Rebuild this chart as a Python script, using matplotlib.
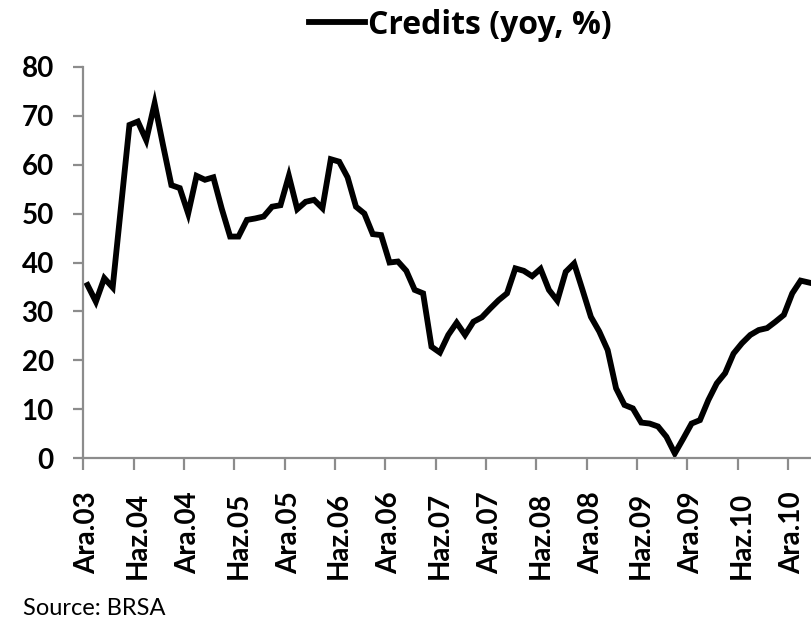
import matplotlib
matplotlib.use("Agg")
import matplotlib.pyplot as plt
import numpy as np

# Monthly credit growth (yoy, %), Dec 2003 .. Feb 2011
credits = [35.4, 32.0, 36.8, 34.9, 51.5, 68.1, 68.8, 65.0, 72.5, 64.0, 55.8, 55.2,
           50.0, 57.7, 56.9, 57.4, 51.0, 45.3, 45.3, 48.7, 49.0, 49.4, 51.4, 51.7,
           57.7, 50.9, 52.4, 52.8, 51.1, 61.1, 60.6, 57.4, 51.4, 50.0, 45.8, 45.6,
           40.0, 40.2, 38.3, 34.4, 33.7, 22.8, 21.6, 25.2, 27.7, 25.2, 27.9, 28.8,
           30.6, 32.3, 33.7, 38.8, 38.3, 37.2, 38.7, 34.4, 32.2, 38.1, 39.8, 34.4,
           28.9, 25.9, 22.1, 14.3, 10.9, 10.2, 7.3, 7.1, 6.5, 4.4, 1.0, 4.0,
           7.1, 7.8, 11.9, 15.3, 17.4, 21.4, 23.5, 25.2, 26.2, 26.6, 27.9, 29.3,
           33.7, 36.3, 35.9]
tick_labels = ["Ara.03", "Haz.04", "Ara.04", "Haz.05", "Ara.05", "Haz.06", "Ara.06",
               "Haz.07", "Ara.07", "Haz.08", "Ara.08", "Haz.09", "Ara.09", "Haz.10",
               "Ara.10"]
y_ticks = [0, 10, 20, 30, 40, 50, 60, 70, 80]
series_name = "Credits (yoy, %)"
source = "Source: BRSA"

FONT = ["Lato", "DejaVu Sans"]
plt.rcParams["font.family"] = FONT

W, H = 811, 621
fig = plt.figure(figsize=(W / 100, H / 100), dpi=100)

# axes geometry in pixels
x_left_px, x_step = 83.3, 8.39
x_min, x_max = -0.5, 90
y_bot_px, y_top_px = 458.3, 66.7
ax = fig.add_axes([x_left_px / W, 1 - y_bot_px / H,
                   (x_max - x_min) * x_step / W, (y_bot_px - y_top_px) / H])

x = np.arange(len(credits))
line, = ax.plot(x, credits, color="black", lw=4.2, solid_joinstyle="miter",
                label=series_name, clip_on=False)

ax.set_xlim(x_min, x_max)
ax.set_ylim(0, 80)

gray = "#8c8c8c"
for s in ["top", "right"]:
    ax.spines[s].set_visible(False)
for s in ["left", "bottom"]:
    ax.spines[s].set_color(gray)
    ax.spines[s].set_linewidth(1.6)

ax.set_yticks(y_ticks)
ax.set_yticklabels([str(v) for v in y_ticks])
ax.tick_params(axis="y", direction="out", length=7.2, width=1.6, color=gray,
               pad=14, labelsize=20)
for t in ax.get_yticklabels():
    t.set_fontweight("bold")

# labels every 6 months at category centres; tick marks at category boundaries
label_pos = [6 * i for i in range(len(tick_labels))]
ax.set_xticks(label_pos)
ax.set_xticklabels(tick_labels, rotation=90, fontsize=20, fontweight="bold")
ax.tick_params(axis="x", which="major", length=0, pad=24)
ax.set_xticks([6 * i - 0.5 for i in range(16)], minor=True)
ax.tick_params(axis="x", which="minor", direction="out", length=8.5, width=1.6,
               color=gray)

leg = fig.legend(handles=[line], loc="center left",
                 bbox_to_anchor=(309 / W, 1 - 25 / H), frameon=False,
                 handlelength=1.75, handletextpad=0.1, borderpad=0, borderaxespad=0,
                 prop={"family": ["Open Sans", "DejaVu Sans"], "weight": "bold",
                       "size": 23})

fig.text(23 / W, 1 - 615 / H, source, fontsize=17, ha="left", va="baseline")

fig.savefig("out.png", dpi=100)
